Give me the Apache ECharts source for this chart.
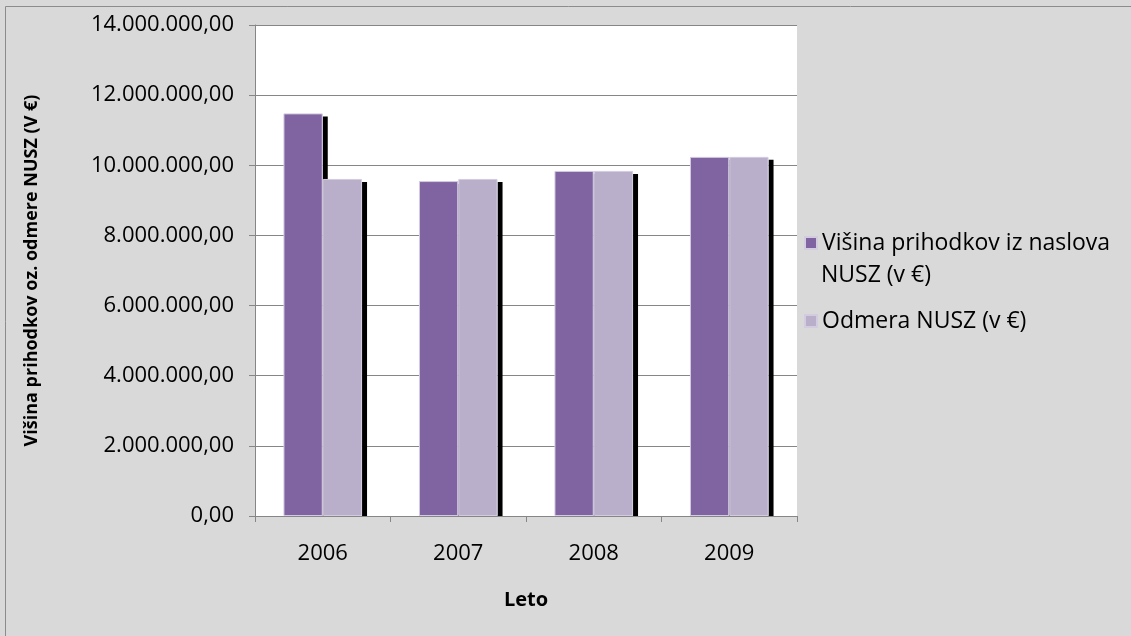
<!DOCTYPE html>
<html>
<head>
<meta charset="utf-8">
<script src="https://cdn.jsdelivr.net/npm/echarts@6/dist/echarts.min.js"></script>
<style>
html, body { margin: 0; padding: 0; background: #d9d9d9; }
#chart { width: 1131px; height: 636px; }
</style>
</head>
<body>
<div id="chart"></div>
<script>
var years = ['2006', '2007', '2008', '2009'];
var prihodki = [11480000, 9550000, 9840000, 10240000];
var odmera = [9610000, 9610000, 9840000, 10240000];
var seriesNames = ['Višina prihodkov iz naslova\nNUSZ (v €)', 'Odmera NUSZ (v €)'];

function fmt(v) {
    var s = Math.round(v).toString().replace(/\B(?=(\d{3})+(?!\d))/g, '.');
    return s + ',00';
}

var font = 'Open Sans';
var gapPct = 0.42;

function barStyle(color) {
    return { color: color, borderColor: '#d3cbe0', borderWidth: 1 };
}

// black drop shadow on the right side of each bar, clipped at the axis
function shadowRender(pos) {
    return function (params, api) {
        var catW = api.size([1, 0])[0];
        var barW = catW * (1 - gapPct) / 2;
        var top = api.coord([api.value(0), api.value(1)]);
        var base = api.coord([api.value(0), 0]);
        var x = top[0] + barW * pos;
        return {
            type: 'rect',
            shape: { x: x, y: top[1] + 3, width: 5, height: base[1] - top[1] - 3 },
            style: { fill: '#000' }
        };
    };
}

var myChart = echarts.init(document.getElementById('chart'));
var option = {
    backgroundColor: '#d9d9d9',
    animation: false,
    graphic: [{
        type: 'rect',
        shape: { x: 5.5, y: 6.5, width: 1140, height: 640 },
        style: { fill: 'none', stroke: '#8c8c8c', lineWidth: 1 },
        z: -1
    }, {
        type: 'text',
        left: 821,
        top: 264,
        style: { text: 'NUSZ (v €)', font: '23px "Open Sans"', fill: '#000' }
    }],
    grid: { left: 255, top: 25, width: 542, height: 491, backgroundColor: '#fff', show: true, borderWidth: 0 },
    legend: {
        orient: 'vertical',
        left: 804,
        top: 230,
        padding: 0,
        itemWidth: 12,
        itemHeight: 12,
        itemGap: 52,
        icon: 'rect',
        formatter: function (name) { return name.split('\n')[0]; },
        textStyle: { fontFamily: font, fontSize: 23, color: '#000', lineHeight: 26 },
        data: seriesNames
    },
    xAxis: {
        type: 'category',
        data: years,
        name: 'Leto',
        nameLocation: 'middle',
        nameGap: 74,
        nameTextStyle: { fontFamily: font, fontSize: 20, fontWeight: 'bold', color: '#000' },
        axisLine: { lineStyle: { color: '#868686' } },
        axisTick: { show: true, length: 6, lineStyle: { color: '#868686' } },
        axisLabel: { fontFamily: font, fontSize: 22, color: '#000', margin: 27 }
    },
    yAxis: {
        type: 'value',
        min: 0,
        max: 14000000,
        interval: 2000000,
        name: 'Višina prihodkov oz. odmere NUSZ (V €)',
        nameLocation: 'middle',
        nameGap: 214,
        nameTextStyle: { fontFamily: font, fontSize: 18, fontWeight: 'bold', color: '#000' },
        axisLine: { show: true, lineStyle: { color: '#868686' } },
        axisTick: { show: true, length: 6, lineStyle: { color: '#868686' } },
        splitLine: { lineStyle: { color: '#868686' } },
        axisLabel: { fontFamily: font, fontSize: 22, color: '#000', margin: 21, formatter: fmt }
    },
    series: [{
        type: 'custom',
        z: 1,
        renderItem: shadowRender(0),
        data: prihodki.map(function (v, i) { return [i, v]; })
    }, {
        type: 'custom',
        z: 1,
        renderItem: shadowRender(1),
        data: odmera.map(function (v, i) { return [i, v]; })
    }, {
        name: seriesNames[0],
        type: 'bar',
        z: 2,
        data: prihodki,
        barGap: '0%',
        barCategoryGap: '42%',
        itemStyle: barStyle('#8064a2')
    }, {
        name: seriesNames[1],
        type: 'bar',
        z: 2,
        data: odmera,
        itemStyle: barStyle('#b9afcb')
    }]
};
myChart.setOption(option);
</script>
</body>
</html>
